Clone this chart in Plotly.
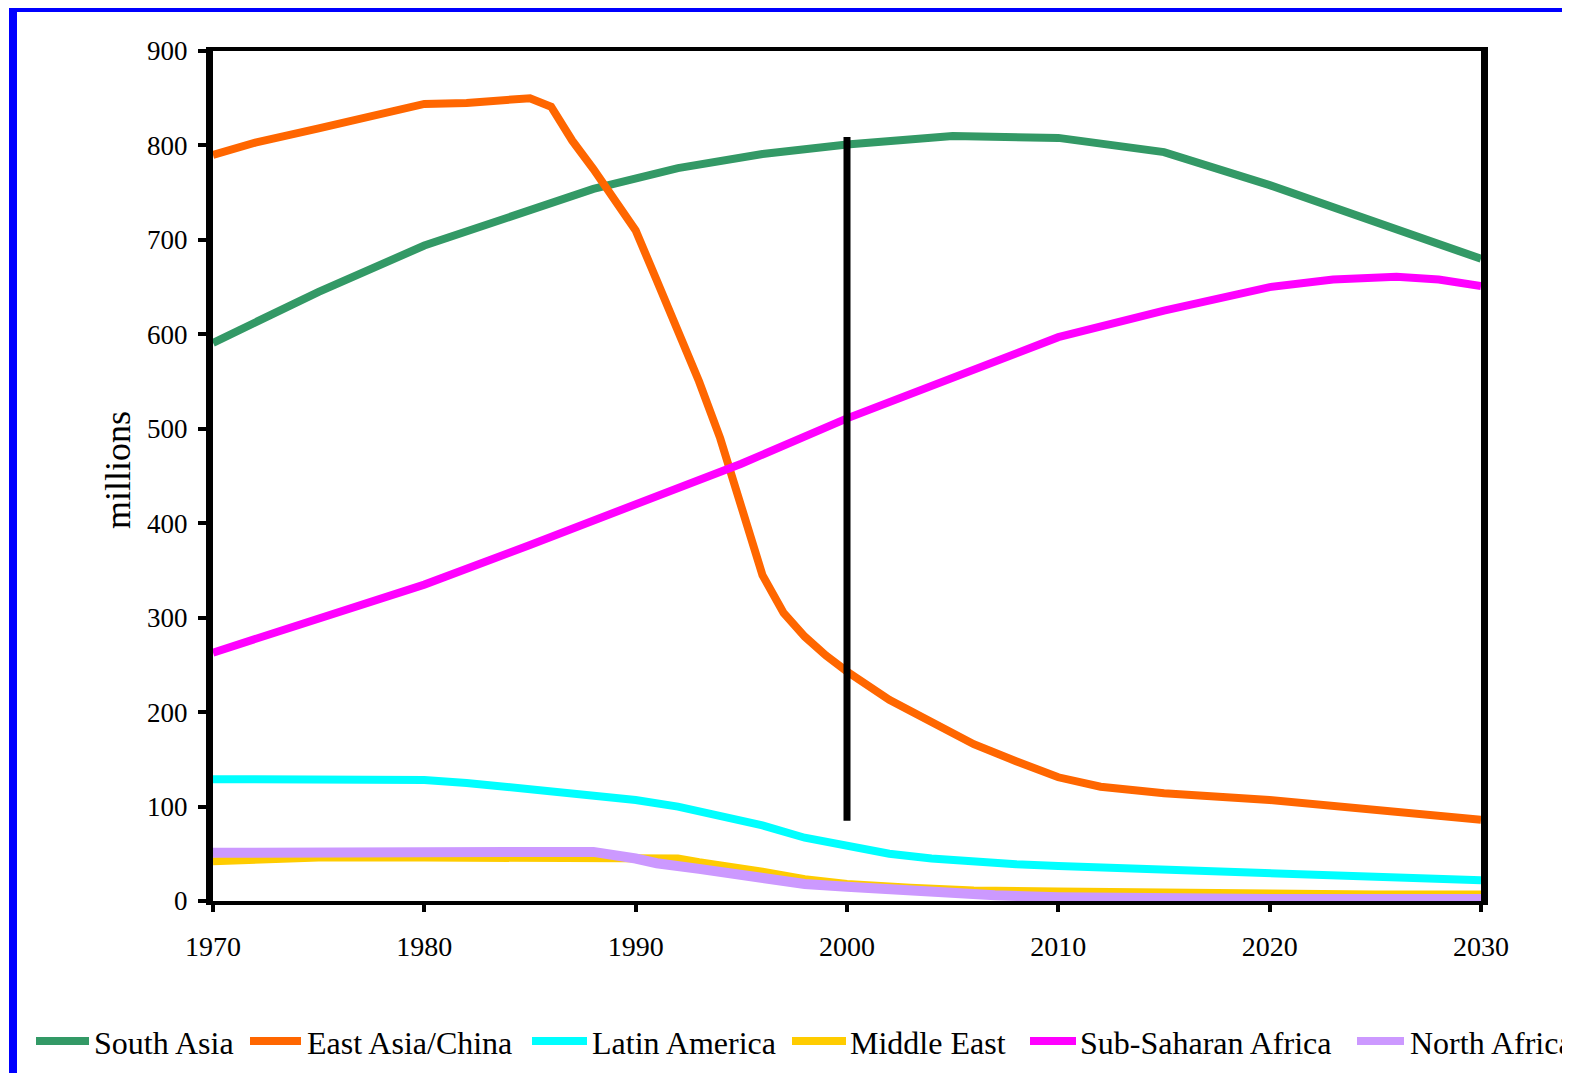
import plotly.graph_objects as go

# ---------------- data (millions) ----------------
years_south_asia = [1970, 1975, 1980, 1984, 1988, 1992, 1996, 2000, 2005, 2010, 2015, 2020, 2025, 2030]
south_asia = [591, 645, 694, 725, 754, 776, 791, 801, 810, 808, 793, 758, 720, 680]

years_east_asia = [1970, 1972, 1975, 1978, 1980, 1982, 1984, 1985, 1986, 1987, 1988, 1989, 1990,
                   1991, 1992, 1993, 1994, 1995, 1996, 1997, 1998, 1999, 2000, 2002, 2004, 2006,
                   2008, 2010, 2012, 2015, 2020, 2025, 2030]
east_asia = [790, 803, 818, 834, 844, 845, 849, 850, 841, 805, 775, 742, 710,
             657, 603, 550, 490, 418, 345, 305, 280, 260, 243, 213, 189, 166,
             148, 131, 121, 114, 107, 97, 86]

years_latin_america = [1970, 1975, 1980, 1982, 1984, 1986, 1988, 1990, 1992, 1994, 1996, 1998,
                       2000, 2002, 2004, 2006, 2008, 2010, 2015, 2020, 2025, 2030]
latin_america = [129, 129, 128, 125, 121, 117, 112, 107, 100, 90, 80, 67,
                 58, 50, 45, 41, 39, 37, 33, 28, 24, 22]

years_middle_east = [1970, 1975, 1980, 1985, 1990, 1991, 1992, 1993, 1994, 1995, 1996, 1998,
                     2000, 2003, 2006, 2010, 2015, 2020, 2025, 2030]
middle_east = [42, 46, 46, 46, 46, 46, 45, 41, 38, 34, 31, 23,
               18, 14, 11, 10, 10, 8, 7, 7]

years_ssa = [1970, 1975, 1980, 1985, 1990, 1995, 2000, 2005, 2010, 2015, 2020, 2023, 2026, 2028, 2030]
sub_saharan_africa = [263, 298, 335, 377, 419, 463, 511, 555, 597, 625, 650, 658, 661, 658, 651]

years_north_africa = [1970, 1975, 1979, 1980, 1985, 1988, 1990, 1991, 1993, 1995, 1998, 2000,
                      2002, 2004, 2007, 2010, 2015, 2020, 2025, 2030]
north_africa = [51, 51, 51, 53, 53, 52, 45, 40, 34, 27, 18, 15,
                12, 8, 6, 4, 2, 2, 2, 2]

series_names = ["South Asia", "East Asia/China", "Latin America", "Middle East",
                "Sub-Saharan Africa", "North Africa"]

marker_year = 2000
marker_span = [85, 809]

x_ticks = [1970, 1980, 1990, 2000, 2010, 2020, 2030]
y_ticks = [0, 100, 200, 300, 400, 500, 600, 700, 800, 900]

# ---------------- styling / layout ----------------
colors = {
    "South Asia": "#339966",
    "East Asia/China": "#FF6600",
    "Latin America": "#00FFFF",
    "Middle East": "#FFCC00",
    "Sub-Saharan Africa": "#FF00FF",
    "North Africa": "#CC99FF",
}
widths = {
    "South Asia": 8, "East Asia/China": 8, "Latin America": 8,
    "Middle East": 8, "Sub-Saharan Africa": 8, "North Africa": 10,
}

W, H = 1570, 1073
PAGE_OFFSET = 8  # default body margin of the html page
# plot area in page pixels: left 213, right 1481, top 51, bottom 901
ML = 213 - PAGE_OFFSET
MT = 51 - PAGE_OFFSET
MR = W - (1481 - PAGE_OFFSET)
MB = H - (901 - PAGE_OFFSET)
PW = W - ML - MR
PH = H - MT - MB


def px_x(px):
    """page pixel x -> paper coordinate"""
    return (px - PAGE_OFFSET - ML) / PW


def px_y(py):
    """page pixel y -> paper coordinate"""
    return (H - MB - (py - PAGE_OFFSET)) / PH


FONT = "Liberation Serif, Times New Roman, serif"

data_map = {
    "South Asia": (years_south_asia, south_asia),
    "East Asia/China": (years_east_asia, east_asia),
    "Latin America": (years_latin_america, latin_america),
    "Middle East": (years_middle_east, middle_east),
    "Sub-Saharan Africa": (years_ssa, sub_saharan_africa),
    "North Africa": (years_north_africa, north_africa),
}

fig = go.Figure()
for name in series_names:
    xs, ys = data_map[name]
    fig.add_trace(go.Scatter(
        x=xs, y=ys, mode="lines", name=name, showlegend=False,
        line=dict(color=colors[name], width=widths[name]),
        hoverinfo="x+y+name",
    ))

# vertical marker line at 2000
fig.add_trace(go.Scatter(
    x=[marker_year, marker_year], y=marker_span, mode="lines", showlegend=False,
    line=dict(color="black", width=7), hoverinfo="skip",
))

# manual legend (positions in page pixels)
legend_pos = [(36, 89, 92), (250, 301, 305), (532, 587, 590),
              (792, 846, 848), (1030, 1076, 1078), (1357, 1404, 1408)]
legend_y = 1041
shapes = []
annotations = []
for name, (x0, x1, xt) in zip(series_names, legend_pos):
    shapes.append(dict(type="line", xref="paper", yref="paper",
                       x0=px_x(x0), x1=px_x(x1), y0=px_y(legend_y), y1=px_y(legend_y),
                       line=dict(color=colors[name], width=8)))
    annotations.append(dict(xref="paper", yref="paper", x=px_x(xt), y=px_y(legend_y + 2),
                            xanchor="left", yanchor="middle", showarrow=False,
                            text=name, font=dict(family=FONT, size=32, color="black")))

# blue frame (left and top edges)
shapes.append(dict(type="line", xref="paper", yref="paper",
                   x0=px_x(13), x1=px_x(13), y0=px_y(8), y1=px_y(H + 20),
                   line=dict(color="#0000FF", width=8)))
shapes.append(dict(type="line", xref="paper", yref="paper",
                   x0=px_x(9), x1=px_x(W + 20), y0=px_y(10), y1=px_y(10),
                   line=dict(color="#0000FF", width=4)))

# y-axis title
annotations.append(dict(xref="paper", yref="paper", x=px_x(118), y=px_y(470),
                        xanchor="center", yanchor="middle", showarrow=False,
                        text="millions", textangle=-90,
                        font=dict(family=FONT, size=36, color="black")))

fig.update_layout(
    width=W, height=H,
    margin=dict(l=ML, r=MR, t=MT, b=MB),
    paper_bgcolor="white", plot_bgcolor="white",
    showlegend=False,
    shapes=shapes,
    annotations=annotations,
    font=dict(family=FONT, color="black"),
)
fig.update_xaxes(
    range=[1970, 2030], tickvals=x_ticks, ticktext=[str(v) for v in x_ticks],
    ticks="outside", ticklen=7, tickwidth=4, tickcolor="black",
    showline=True, linewidth=4, linecolor="black", mirror=True,
    showgrid=False, zeroline=False,
    tickfont=dict(family=FONT, size=28, color="black"),
    ticklabelstandoff=10,
)
fig.update_yaxes(
    range=[0, 900], tickvals=y_ticks, ticktext=[str(v) for v in y_ticks],
    ticks="outside", ticklen=8, tickwidth=4, tickcolor="black",
    showline=True, linewidth=7, linecolor="black", mirror=True,
    showgrid=False, zeroline=False,
    tickfont=dict(family=FONT, size=27, color="black"),
    ticklabelstandoff=5,
)

fig.write_html("out.html")
